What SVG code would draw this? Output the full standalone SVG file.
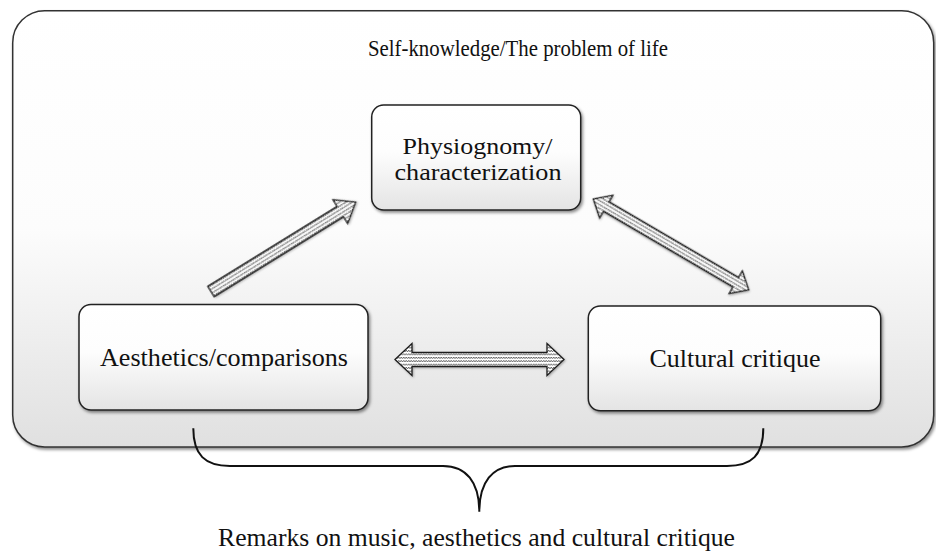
<svg xmlns="http://www.w3.org/2000/svg" width="936" height="555" viewBox="0 0 936 555">
<defs>
<linearGradient id="outerGrad" x1="0" y1="0" x2="0" y2="1">
<stop offset="0" stop-color="#ffffff"/>
<stop offset="0.5" stop-color="#fcfcfc"/>
<stop offset="1" stop-color="#e0e0e0"/>
</linearGradient>
<linearGradient id="boxGrad" x1="0" y1="0" x2="0" y2="1">
<stop offset="0" stop-color="#ffffff"/>
<stop offset="0.45" stop-color="#fdfdfd"/>
<stop offset="1" stop-color="#e4e4e4"/>
</linearGradient>
<pattern id="zig" patternUnits="userSpaceOnUse" width="5" height="3.4">
<rect width="5" height="3.4" fill="#ffffff"/>
<path d="M0,2.5 L1.25,0.9 L2.5,2.5 L3.75,0.9 L5,2.5" fill="none" stroke="#4a4a4a" stroke-width="0.85"/>
</pattern>
<filter id="shadow" x="-5%" y="-5%" width="112%" height="120%">
<feDropShadow dx="1.5" dy="2" stdDeviation="1.6" flood-color="#000" flood-opacity="0.45"/>
</filter>
<filter id="ashadow" x="-10%" y="-30%" width="120%" height="160%">
<feDropShadow dx="1" dy="1" stdDeviation="0.8" flood-color="#000" flood-opacity="0.3"/>
</filter>
</defs>
<style>
.outer{fill:url(#outerGrad);stroke:#333;stroke-width:1.5;filter:url(#shadow)}
.box{fill:url(#boxGrad);stroke:#222;stroke-width:1.5;filter:url(#shadow)}
.lbl{font-family:"Liberation Serif","Times New Roman",serif;font-size:26px;fill:#111;text-anchor:middle}
.title{font-size:23px}
.two{font-size:24px}
.arrow{fill:url(#zig);stroke:#1e1e1e;stroke-width:1.3;stroke-linejoin:miter;filter:url(#ashadow)}
.brace{fill:none;stroke:#111;stroke-width:2}
</style>

<g id="frame">
<rect class="outer" x="12.7" y="10.7" width="921" height="436.3" rx="32" ry="32"/>
<text class="lbl title" x="518" y="56" textLength="300" lengthAdjust="spacingAndGlyphs">Self-knowledge/The problem of life</text>
</g>

<g id="connectors">
<path class="arrow" transform="translate(211,291.5) rotate(-31.7)" d="M0,-6 L152,-6 L152,-14 L170,0 L152,14 L152,6 L0,6 Z"/>
<path class="arrow" transform="translate(593.3,199) rotate(30.3)" d="M0,0 L15,-13 L15,-5.5 L165,-5.5 L165,-13 L180,0 L165,13 L165,5.5 L15,5.5 L15,13 Z"/>
<path class="arrow" transform="translate(395,359.5)" d="M0,0 L17,-16 L17,-7 L152,-7 L152,-16 L169,0 L152,16 L152,7 L17,7 L17,16 Z"/>
</g>

<g id="node-physiognomy">
<rect class="box" x="371.7" y="105" width="209" height="105" rx="12" ry="12"/>
<text class="lbl two" x="477.5" y="154" textLength="150" lengthAdjust="spacingAndGlyphs">Physiognomy/</text>
<text class="lbl two" x="478" y="180" textLength="167" lengthAdjust="spacingAndGlyphs">characterization</text>
</g>

<g id="node-aesthetics">
<rect class="box" x="79" y="304.5" width="289" height="105.5" rx="12" ry="12"/>
<text class="lbl" x="224" y="366" textLength="248" lengthAdjust="spacingAndGlyphs">Aesthetics/comparisons</text>
</g>

<g id="node-cultural">
<rect class="box" x="588.3" y="306" width="292.4" height="104.7" rx="12" ry="12"/>
<text class="lbl" x="735" y="367" textLength="171" lengthAdjust="spacingAndGlyphs">Cultural critique</text>
</g>

<g id="brace">
<path class="brace" d="M193.3,428.3 C193.3,455 205,466 230,466 L443,466 C466,466 479.3,482 479.3,511.7 C479.3,482 492.6,466 515,466 L727,466 C752,466 763.3,455 763.3,428.3"/>
<text class="lbl" x="476.5" y="546" textLength="517" lengthAdjust="spacingAndGlyphs">Remarks on music, aesthetics and cultural critique</text>
</g>
</svg>
